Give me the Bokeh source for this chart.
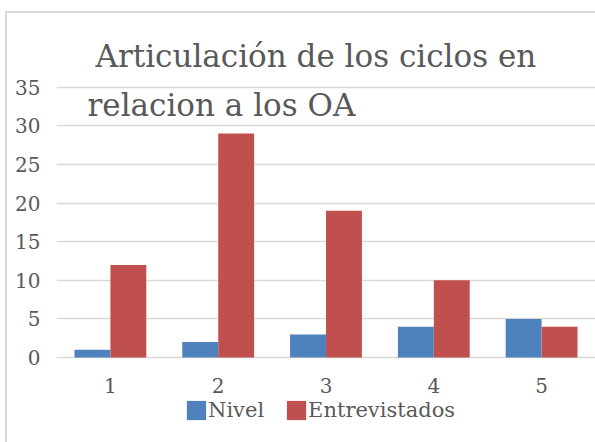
from bokeh.plotting import figure
from bokeh.models import FactorRange, Range1d, FixedTicker, Legend, LegendItem, Label, ColumnDataSource
from bokeh.transform import dodge
from bokeh.embed import file_html
from bokeh.resources import INLINE

categories = ["1", "2", "3", "4", "5"]
nivel = [1, 2, 3, 4, 5]
entrevistados = [12, 29, 19, 10, 4]
y_ticks = [0, 5, 10, 15, 20, 25, 30, 35]
title_lines = ["Articulación de los ciclos en", "relacion a los OA"]

FONT = "DejaVu Serif"
TXT = "#595959"
GRID = "#d9d9d9"

source = ColumnDataSource(dict(cat=categories, nivel=nivel, entrevistados=entrevistados))

p = figure(frame_width=539, frame_height=417,
           x_range=FactorRange(factors=categories, range_padding=0),
           y_range=Range1d(-11, 43), output_backend="svg", toolbar_location=None,
           min_border_left=49, min_border_right=0, min_border_top=12, min_border_bottom=0)
p.styles = {"margin-left": "5px", "margin-top": "11px",
            "border-left": "2px solid #d9d9d9", "border-top": "2px solid #d9d9d9"}
p.outline_line_color = None
p.background_fill_color = "white"
p.border_fill_color = "white"

r1 = p.vbar(x=dodge("cat", -0.1667, range=p.x_range), top="nivel", width=0.333, source=source,
            fill_color="#4F81BD", line_color=None)
r2 = p.vbar(x=dodge("cat", 0.1667, range=p.x_range), top="entrevistados", width=0.333, source=source,
            fill_color="#C0504D", line_color=None)

p.xgrid.grid_line_color = None
p.ygrid.grid_line_color = GRID
p.ygrid.grid_line_width = 1.5
p.ygrid.ticker = FixedTicker(ticks=y_ticks)

p.yaxis.ticker = FixedTicker(ticks=y_ticks)
for ax in (p.xaxis[0], p.yaxis[0]):
    ax.axis_line_color = None
    ax.major_tick_line_color = None
    ax.minor_tick_line_color = None
    ax.major_tick_in = 0
    ax.major_tick_out = 0
    ax.major_label_text_font = FONT
    ax.major_label_text_color = TXT
    ax.major_label_text_font_size = "20px"
p.yaxis.major_label_standoff = 16
p.xaxis.major_label_standoff = 20
p.xaxis.fixed_location = 0

legend = Legend(items=[LegendItem(label="Nivel", renderers=[r1]),
                       LegendItem(label="Entrevistados", renderers=[r2])],
                location=(128, 20), orientation="horizontal",
                glyph_width=24, glyph_height=24, label_height=24, label_standoff=0, spacing=20,
                padding=0, margin=0, border_line_color=None, background_fill_alpha=0,
                label_text_font=FONT, label_text_color=TXT, label_text_font_size="21px")
p.add_layout(legend, "center")

p.add_layout(Label(x=39, y=387, x_units="screen", y_units="screen", text=title_lines[0],
                   text_font=FONT, text_font_size="31px", text_color=TXT, text_baseline="alphabetic"))
p.add_layout(Label(x=31, y=338, x_units="screen", y_units="screen", text=title_lines[1],
                   text_font=FONT, text_font_size="31px", text_color=TXT, text_baseline="alphabetic"))

open("out.html", "w").write(file_html(p, INLINE))
